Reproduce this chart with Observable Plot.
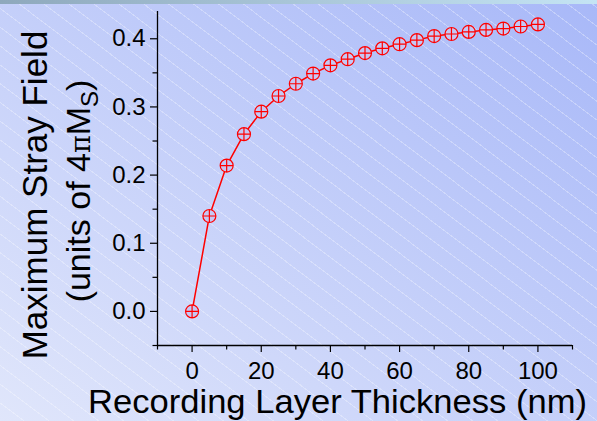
<!DOCTYPE html>
<html><head><meta charset="utf-8">
<script src="https://cdn.jsdelivr.net/npm/d3@7"></script>
<script src="https://cdn.jsdelivr.net/npm/@observablehq/plot@0.6"></script>
<style>
html,body{margin:0;padding:0;}
body{width:597px;height:421px;overflow:hidden;}
#bg{position:relative;width:597px;height:421px;
 background:
  linear-gradient(to right,#8ea8bc,#c4e4f4) top/100% 4px no-repeat,
  repeating-linear-gradient(37deg, rgba(255,255,255,0) 0px, rgba(255,255,255,0) 14px, rgba(255,255,255,0.3) 14px, rgba(255,255,255,0.3) 15px),
  linear-gradient(to top right,#e0e6fb,#a8b8f8);}
svg{display:block;}
</style></head>
<body><div id="bg"></div>
<script>
const thickness = [0,5,10,15,20,25,30,35,40,45,50,55,60,65,70,75,80,85,90,95,100];
const strayField = [0,0.140,0.214,0.260,0.293,0.316,0.334,0.349,0.361,0.370,0.379,0.386,0.392,0.398,0.404,0.407,0.410,0.413,0.415,0.418,0.421];
const xTicks = [0,20,40,60,80,100];
const xTickLabels = ["0","20","40","60","80","100"];
const xMinorTicks = [-10,10,30,50,70,90,110];
const yTicks = [0,0.1,0.2,0.3,0.4];
const yTickLabels = ["0.0","0.1","0.2","0.3","0.4"];
const yMinorTicks = [-0.05,0.05,0.15,0.25,0.35];
const xTitle = "Recording Layer Thickness (nm)";
const yTitle1 = "Maximum Stray Field";

const data = thickness.map((x,i)=>({x, y: strayField[i]}));
const circlePlus = {draw(ctx,size){const r=Math.sqrt(size/Math.PI); ctx.moveTo(r,0); ctx.arc(0,0,r,0,2*Math.PI); ctx.moveTo(-r,0); ctx.lineTo(r,0); ctx.moveTo(0,-r); ctx.lineTo(0,r);}};
const font = "'Liberation Sans', Arial, sans-serif";
const chart = Plot.plot({
  width:597, height:421, marginLeft:157, marginRight:25, marginTop:11, marginBottom:76,
  style:{background:"transparent", fontFamily:font, color:"#000", overflow:"visible"},
  x:{domain:[-10,110]}, y:{domain:[-0.05,0.44]},
  marks:[
    Plot.axisX({ticks:xTicks, tickSize:7, tickPadding:9, fontSize:24, strokeWidth:1.2, label:null, tickFormat:d=>xTickLabels[xTicks.indexOf(d)]}),
    Plot.axisX({ticks:xMinorTicks, tickSize:4.5, strokeWidth:1.2, label:null, tickFormat:()=>""}),
    Plot.axisY({ticks:yTicks, tickSize:7, tickPadding:5, fontSize:24, strokeWidth:1.2, label:null, tickFormat:d=>yTickLabels[yTicks.indexOf(d)]}),
    Plot.axisY({ticks:yMinorTicks, tickSize:4.5, strokeWidth:1.2, label:null, tickFormat:()=>""}),
    Plot.ruleX([-10],{stroke:"#000", strokeWidth:1.3}),
    Plot.ruleY([-0.05],{stroke:"#000", strokeWidth:1.3}),
    Plot.line(data,{x:"x", y:"y", stroke:"#ff0000", strokeWidth:1.5}),
    Plot.dot(data,{x:"x", y:"y", r:6.5, symbol:circlePlus, stroke:"#ff0000", strokeWidth:1.2, fill:"#c6c8f5"})
  ]
});
document.getElementById("bg").appendChild(chart);
const svg = d3.select(chart);
svg.append("text").attr("x",88).attr("y",413).attr("font-size",33).attr("font-family",font)
  .attr("text-anchor","start")
  .attr("textLength",499).attr("lengthAdjust","spacingAndGlyphs").attr("fill","#000").text(xTitle);
svg.append("text").attr("transform","translate(46.7,195) rotate(-90)").attr("text-anchor","middle")
  .attr("font-size",35).attr("font-family",font).attr("fill","#000").text(yTitle1);
const t2 = svg.append("text").attr("transform","translate(89.7,191) rotate(-90)").attr("text-anchor","middle")
  .attr("font-size",34).attr("font-family",font).attr("fill","#000");
t2.append("tspan").text("(units of 4");
t2.append("tspan").attr("font-family","'DejaVu Serif', serif").attr("font-size",27).text("\u03c0");
t2.append("tspan").text("M");
t2.append("tspan").attr("font-size",24).attr("dy",8).text("S");
t2.append("tspan").attr("dy",-8).text(")");
</script>
</body></html>
